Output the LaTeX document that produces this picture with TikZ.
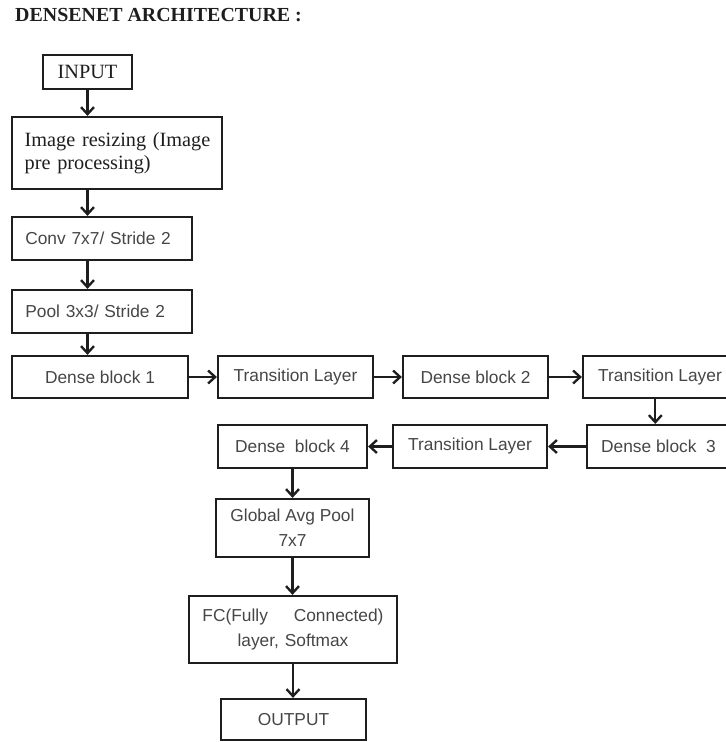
\documentclass[tikz,border=0pt]{standalone}
\usepackage{fontspec}
\setmainfont{Liberation Serif}
\setsansfont{Liberation Sans}
\usepackage{tikz}
\usetikzlibrary{arrows.meta}

\definecolor{boxline}{RGB}{30,30,30}
\definecolor{boxtext}{RGB}{70,70,70}

\tikzset{
	blk/.style={draw=boxline, line width=1.9pt, minimum height=1.26cm, inner sep=0pt,
		font=\sffamily\fontsize{14.8}{21}\selectfont, text=boxtext, align=center},
	sblk/.style={blk, font=\fontsize{17.3}{20}\selectfont, text=boxline},
	lblk/.style={blk, align=left, inner xsep=0.4cm},
	arr/.style={draw=boxline, line width=1.9pt,
		-{Straight Barb[length=6pt,width=11pt,line width=2pt]}}
}

\begin{document}
\begin{tikzpicture}[x=0.03cm,y=-0.03cm]
	
	\clip (0,0) rectangle (726,742);
	
	\node[anchor=west, inner sep=0pt, text=boxline, font=\bfseries\fontsize{17}{20}\selectfont] (ttl) at (15,15.5) {DENSENET ARCHITECTURE :};
	
	% left column
	\node[sblk, minimum width=2.67cm, minimum height=1.02cm] (inp) at (87.5,72) {INPUT};
	\node[sblk, align=left, inner xsep=0.38cm, text width=5.54cm, minimum height=2.16cm] (res) at (117,153) {\mbox{Image resizing (Image}\\\mbox{pre processing)}};
	\node[lblk, text width=4.6cm, minimum height=1.29cm] (conv) at (102,238.5) {Conv 7x7/ Stride 2};
	\node[lblk, text width=4.6cm, minimum height=1.29cm] (pool) at (102,311.5) {Pool 3x3/ Stride 2};
	
	% first row
	\node[blk, minimum width=5.28cm] (d1) at (100,377) {Dense block 1};
	\node[blk, minimum width=4.65cm] (t1) at (295.5,377) {Transition Layer};
	\node[blk, minimum width=4.35cm] (d2) at (475.5,377) {Dense block 2};
	\node[blk, minimum width=4.62cm] (t2) at (660,377) {Transition Layer};
	
	% second row
	\node[blk, minimum width=4.29cm, minimum height=1.29cm] (d3) at (658.5,446.5) {Dense block\ \ 3};
	\node[blk, minimum width=4.62cm, minimum height=1.29cm] (t3) at (470,446.5) {Transition Layer};
	\node[blk, minimum width=4.47cm, minimum height=1.29cm] (d4) at (292.5,446.5) {Dense\ \ block 4};
	
	% last column
	\node[blk, minimum width=4.59cm, minimum height=1.74cm] (gap) at (292.5,528) {Global Avg Pool\\7x7};
	\node[blk, text width=5.43cm, inner xsep=0.405cm, minimum height=2.01cm] (fc) at (293,629.5) {FC(Fully\hfill Connected)\\layer, Softmax};
	\node[blk, minimum width=4.35cm, minimum height=1.23cm] (out) at (293.5,719.5) {OUTPUT};
	
	\draw[arr] (inp.south) -- (inp.south |- res.north);
	\draw[arr] (inp.south |- res.south) -- (inp.south |- conv.north);
	\draw[arr] (inp.south |- conv.south) -- (inp.south |- pool.north);
	\draw[arr] (inp.south |- pool.south) -- (inp.south |- d1.north);
	
	\draw[arr] (d1.east) -- (t1.west);
	\draw[arr] (t1.east) -- (d2.west);
	\draw[arr] (d2.east) -- (t2.west);
	\draw[arr] ([xshift=-4]t2.south) -- ([xshift=-4]t2.south |- d3.north);
	\draw[arr] (d3.west) -- (t3.east);
	\draw[arr] (t3.west) -- (d4.east);
	
	\draw[arr] (d4.south) -- (d4.south |- gap.north);
	\draw[arr] (gap.south) -- (gap.south |- fc.north);
	\draw[arr] (fc.south) -- (fc.south |- out.north);
	
\end{tikzpicture}
\end{document}
